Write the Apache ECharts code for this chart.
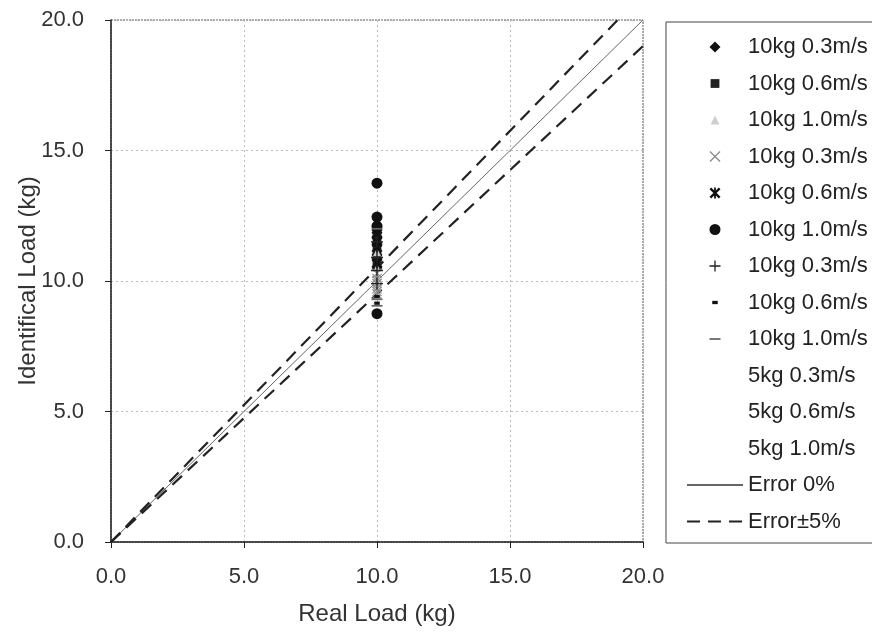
<!DOCTYPE html>
<html>
<head>
<meta charset="UTF-8">
<title>Identified load vs real load</title>
<script src="https://cdn.jsdelivr.net/npm/echarts@6/dist/echarts.min.js"></script>
</head>
<body style="margin:0;background:#fff;">
<div id="main" style="width:872px;height:637px;"></div>
<script type="text/javascript">
// axis ticks
var axisTicks = [0, 5, 10, 15, 20];

// legend names, in order (trailing spaces keep repeated labels apart)
var seriesNames = [
	'10kg 0.3m/s', '10kg 0.6m/s', '10kg 1.0m/s',
	'10kg 0.3m/s ', '10kg 0.6m/s ', '10kg 1.0m/s ',
	'10kg 0.3m/s  ', '10kg 0.6m/s  ', '10kg 1.0m/s  ',
	'5kg 0.3m/s', '5kg 0.6m/s', '5kg 1.0m/s'
];

// identified load values, all measured at real load 10 kg
var realLoad = 10;
var diamondVals = [11.0, 11.4, 10.8, 11.7, 10.5];
var squareVals = [11.2, 10.9, 11.6, 11.9, 10.6];
var triangleVals = [10.2, 9.8, 10.5, 11.1];
var crossVals = [9.5, 9.7, 9.9, 10.1, 10.3, 9.6, 10.0];
var starVals = [11.5, 11.8, 12.0, 11.3, 10.7];
var circleVals = [13.75, 12.45, 12.1, 8.75];
var plusVals = [10.4, 9.9, 10.9, 11.5];
var dashVals = [9.15, 9.4, 12.2];
var thinDashVals = [9.3, 9.05, 12.0];
var empty5kg = [[], [], []];

// reference lines
var err0 = [[0, 0], [20, 20]];
var errPlus5 = [[0, 0], [20, 21]];
var errMinus5 = [[0, 0], [20, 19]];

function pts(vals) {
	return vals.map(function (v) { return [realLoad, v]; });
}

// marker shapes, all with a 10x10 box so they scale the same
var PAD = 'M0,0M10,10';
var shapes = {
	diamond: 'path://M5,0L10,5L5,10L0,5Z',
	square: 'path://' + PAD + 'M1,1H9V9H1Z',
	triangle: 'path://' + PAD + 'M5,1L9,9H1Z',
	cross: 'path://M0,0.8L0.8,0L5,4.2L9.2,0L10,0.8L5.8,5L10,9.2L9.2,10L5,5.8L0.8,10L0,9.2L4.2,5Z',
	star: 'path://M0,1.5L1.5,0L5,3.5L8.5,0L10,1.5L6.5,5L10,8.5L8.5,10L5,6.5L1.5,10L0,8.5L3.5,5Z M4.2,0H5.8V10H4.2Z',
	circle: 'circle',
	plus: 'path://M4.4,0H5.6V4.4H10V5.6H5.6V10H4.4V5.6H0V4.4H4.4Z',
	dash: 'path://' + PAD + 'M2.5,3.5H7.5V6.5H2.5Z',
	thinDash: 'path://' + PAD + 'M0,4.2H10V5.8H0Z',
	none: 'path://' + PAD
};

var markSeries = [
	{ vals: diamondVals, sym: shapes.diamond, size: 11, color: '#111' },
	{ vals: squareVals, sym: shapes.square, size: 11, color: '#222' },
	{ vals: triangleVals, sym: shapes.triangle, size: 10, color: '#cfcfcf' },
	{ vals: crossVals, sym: shapes.cross, size: 10, color: '#8a8a8a' },
	{ vals: starVals, sym: shapes.star, size: 11, color: '#111' },
	{ vals: circleVals, sym: shapes.circle, size: 11, color: '#111' },
	{ vals: plusVals, sym: shapes.plus, size: 12, color: '#222' },
	{ vals: dashVals, sym: shapes.dash, size: 11, color: '#111' },
	{ vals: thinDashVals, sym: shapes.thinDash, size: 11, color: '#666' },
	{ vals: empty5kg[0], sym: shapes.none, size: 10, color: 'rgba(0,0,0,0)' },
	{ vals: empty5kg[1], sym: shapes.none, size: 10, color: 'rgba(0,0,0,0)' },
	{ vals: empty5kg[2], sym: shapes.none, size: 10, color: 'rgba(0,0,0,0)' }
];

var series = markSeries.map(function (m, i) {
	return {
		name: seriesNames[i],
		type: 'scatter',
		data: pts(m.vals),
		symbol: m.sym,
		symbolSize: m.size,
		itemStyle: { color: m.color, opacity: 1 },
		z: 5
	};
});

var clear = 'rgba(0,0,0,0)';
series.push({
	name: 'Error 0%',
	type: 'line',
	data: err0,
	symbol: 'none',
	itemStyle: { color: clear },
	lineStyle: { color: '#666', width: 1 },
	z: 3
});
series.push({
	name: 'Error±5%',
	type: 'line',
	data: errPlus5,
	symbol: 'none',
	clip: true,
	itemStyle: { color: clear },
	lineStyle: { color: '#222', width: 2.2, type: [13, 8] },
	z: 3
});
series.push({
	name: 'Error±5%',
	type: 'line',
	data: errMinus5,
	symbol: 'none',
	clip: true,
	itemStyle: { color: clear },
	lineStyle: { color: '#222', width: 2.2, type: [13, 8] },
	z: 3
});

var FONT = '"Liberation Sans", Arial, sans-serif';

var myChart = echarts.init(document.getElementById('main'));
myChart.setOption({
	backgroundColor: '#fff',
	animation: false,
	grid: {
		left: 111, right: 229, top: 20, bottom: 95,
		show: true, borderColor: '#555', borderWidth: 1, borderType: [2, 1]
	},
	xAxis: {
		type: 'value',
		min: axisTicks[0],
		max: axisTicks[axisTicks.length - 1],
		interval: 5,
		name: 'Real Load (kg)',
		nameLocation: 'middle',
		nameGap: 60,
		nameTextStyle: { fontSize: 24, color: '#333', fontFamily: FONT },
		axisLine: { lineStyle: { color: '#222', width: 1.5 } },
		axisTick: { show: true, length: 6, lineStyle: { color: '#222' } },
		axisLabel: {
			fontSize: 22, color: '#333', fontFamily: FONT, margin: 24,
			formatter: function (v) { return v.toFixed(1); }
		},
		splitLine: { show: true, lineStyle: { color: '#bbb', type: [2, 3], width: 1 } }
	},
	yAxis: {
		type: 'value',
		min: axisTicks[0],
		max: axisTicks[axisTicks.length - 1],
		interval: 5,
		name: 'Identifical Load (kg)',
		nameLocation: 'middle',
		nameGap: 71,
		nameMoveOverlap: false,
		nameTextStyle: { fontSize: 24, color: '#333', fontFamily: FONT },
		axisLine: { lineStyle: { color: '#222', width: 1.5 } },
		axisTick: { show: true, length: 6, lineStyle: { color: '#222' } },
		axisLabel: {
			fontSize: 22, color: '#333', fontFamily: FONT, margin: 27,
			formatter: function (v) { return v.toFixed(1); }
		},
		splitLine: { show: true, lineStyle: { color: '#bbb', type: [2, 3], width: 1 } }
	},
	legend: {
		orient: 'vertical',
		left: 681,
		top: 31,
		itemWidth: 56,
		itemHeight: 11,
		itemGap: 14.5,
		selectedMode: false,
		textStyle: { fontSize: 22, color: '#222', fontFamily: FONT },
		formatter: function (name) { return name.trim(); },
		data: seriesNames.concat(['Error 0%', 'Error±5%'])
	},
	graphic: [{
		type: 'rect',
		shape: { x: 666, y: 22, width: 220, height: 521 },
		style: { fill: 'none', stroke: '#444', lineWidth: 1 },
		z: 1
	}],
	series: series
});
</script>
</body>
</html>
